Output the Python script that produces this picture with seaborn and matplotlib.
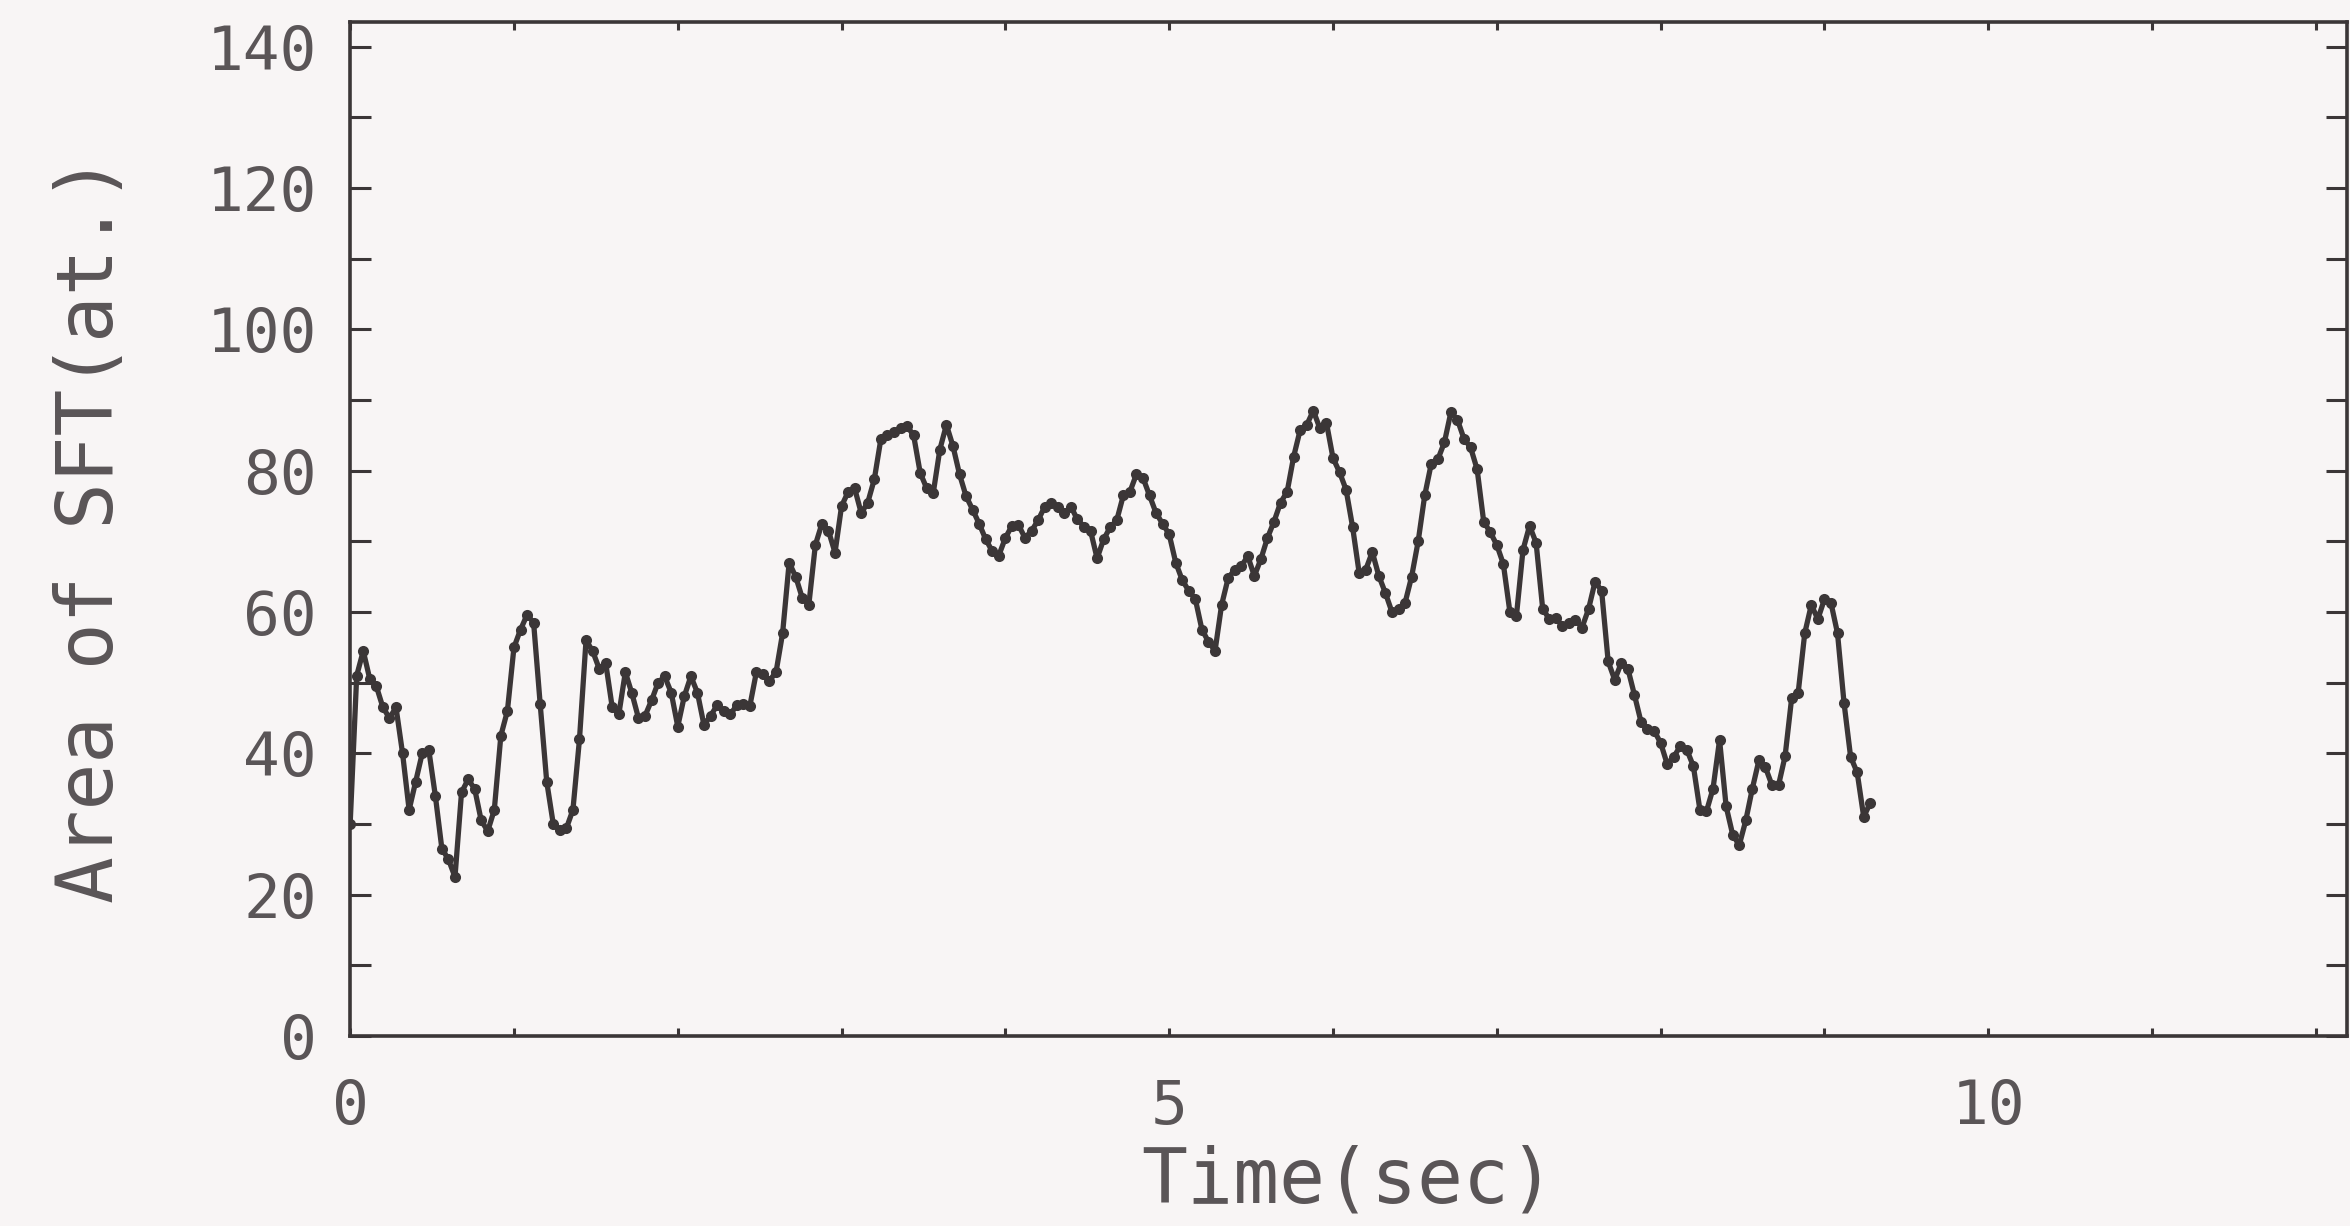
import matplotlib
matplotlib.use("Agg")
import matplotlib.pyplot as plt
import numpy as np
import pandas as pd
import seaborn as sns
from matplotlib.ticker import MultipleLocator

# area of SFT, one sample per video frame (0.04 s)
frame_interval = 0.04
area_sft = [
    30, 51, 54.5, 50.5, 49.5, 46.5, 45, 46.5, 40, 32,
    36, 40, 40.5, 34, 26.5, 25, 22.5, 34.5, 36.3, 35,
    30.5, 29, 32, 42.5, 46, 55, 57.5, 59.6, 58.5, 47,
    36, 30, 29.2, 29.4, 32, 42, 56, 54.5, 52, 52.8,
    46.5, 45.5, 51.5, 48.5, 45, 45.3, 47.5, 50, 50.9, 48.6,
    43.8, 48.1, 50.9, 48.6, 44, 45.3, 46.8, 46, 45.5, 46.8,
    47, 46.7, 51.5, 51.2, 50.3, 51.5, 57, 67, 65, 62,
    61, 69.5, 72.5, 71.5, 68.4, 75, 77, 77.5, 74, 75.5,
    78.8, 84.5, 85, 85.5, 86, 86.3, 85, 79.7, 77.5, 76.9,
    83, 86.5, 83.5, 79.5, 76.4, 74.5, 72.5, 70.3, 68.6, 68,
    70.5, 72.2, 72.3, 70.5, 71.5, 73, 74.9, 75.4, 74.9, 74,
    74.9, 73.1, 72.1, 71.5, 67.6, 70.3, 72, 73, 76.5, 77,
    79.5, 79, 76.5, 74, 72.5, 71, 67, 64.5, 63, 61.8,
    57.5, 55.8, 54.5, 61, 64.8, 66, 66.5, 67.9, 65.1, 67.5,
    70.5, 72.8, 75.5, 77, 82, 85.8, 86.5, 88.5, 86, 86.8,
    81.8, 79.8, 77.3, 72, 65.5, 66, 68.5, 65.1, 62.7, 60,
    60.5, 61.3, 65, 70, 76.5, 81, 81.6, 84, 88.3, 87.2,
    84.5, 83.3, 80.2, 72.8, 71.3, 69.5, 66.8, 60, 59.5, 68.8,
    72.2, 69.8, 60.5, 59, 59.2, 58, 58.5, 58.9, 57.8, 60.4,
    64.3, 63, 53, 50.4, 52.8, 52, 48.3, 44.5, 43.5, 43.2,
    41.5, 38.5, 39.5, 41, 40.5, 38.2, 32, 31.8, 35, 41.9,
    32.5, 28.5, 27, 30.5, 35, 39, 38, 35.5, 35.5, 39.6,
    47.8, 48.6, 57, 61, 59, 61.8, 61.3, 57, 47.1, 39.5,
    37.3, 31, 33,
]
time_sec = np.arange(len(area_sft)) * frame_interval

df = pd.DataFrame({"time": time_sec, "area": area_sft})

sns.set_style("ticks")
plt.rcParams["font.family"] = ["DejaVu Sans Mono", "DejaVu Sans"]

bg = "#f8f5f5"
ink = "#3b3637"
txt = "#5a5557"

fig = plt.figure(figsize=(23.5, 12.26), dpi=100)
fig.set_facecolor(bg)
ax = fig.add_axes([0.149, 0.155, 0.8497, 0.827])
ax.set_facecolor(bg)

sns.lineplot(
    data=df,
    x="time",
    y="area",
    ax=ax,
    color=ink,
    linewidth=3.8,
    marker="o",
    markersize=8,
    markeredgewidth=0,
    markerfacecolor=ink,
)

ax.set_xlim(0, 12.19)
ax.set_ylim(0, 143.5)

ax.xaxis.set_major_locator(MultipleLocator(5))
ax.xaxis.set_minor_locator(MultipleLocator(1))
ax.yaxis.set_major_locator(MultipleLocator(20))
ax.yaxis.set_minor_locator(MultipleLocator(10))

ax.tick_params(axis="x", which="both", direction="in", top=True, length=6,
               width=2.2, color=ink, labelsize=44, labelcolor=txt, pad=30)
ax.tick_params(axis="y", which="both", direction="in", right=True, length=15,
               width=2.2, color=ink, labelsize=44, labelcolor=txt, pad=24)

for side in ["left", "right", "top", "bottom"]:
    ax.spines[side].set_visible(True)
    ax.spines[side].set_color(ink)
    ax.spines[side].set_linewidth(2.6)

ax.set_xlabel("Time(sec)", fontsize=55, color=txt, labelpad=6)
ax.set_ylabel("Area of SFT(at.)", fontsize=56, color=txt, labelpad=56)

fig.savefig("out.png", dpi=100, facecolor=bg)
